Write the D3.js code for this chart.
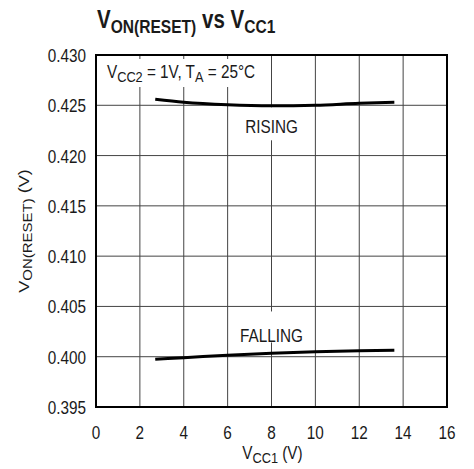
<!DOCTYPE html>
<html>
<head>
<meta charset="utf-8">
<script src="https://cdn.jsdelivr.net/npm/d3@7"></script>
<style>
  body { margin: 0; background: #fff; }
  svg text { font-family: "Liberation Sans", Arial, sans-serif; fill: #1a1a1a; }
</style>
</head>
<body>
<div id="chart"></div>
<script>
// data
var xTicks = [0, 2, 4, 6, 8, 10, 12, 14, 16];
var yTicks = [0.395, 0.400, 0.405, 0.410, 0.415, 0.420, 0.425, 0.430];
var vcc1 = [2.7, 4, 6, 8, 10, 12, 13.6];
var rising = [0.4256, 0.4253, 0.42505, 0.42495, 0.4250, 0.4252, 0.4253];
var falling = [0.39975, 0.3999, 0.40015, 0.40035, 0.4005, 0.4006, 0.40065];

var width = 474, height = 469;
var margin = {left: 96, right: 27, top: 55, bottom: 62};
var squeeze = 0.85; // condensed look

var svg = d3.select("#chart").append("svg")
  .attr("width", width)
  .attr("height", height);

var x = d3.scaleLinear().domain([0, 16]).range([margin.left, width - margin.right]);
var y = d3.scaleLinear().domain([0.395, 0.430]).range([height - margin.bottom, margin.top]);

// text squeezed horizontally around its anchor point
function label(px, py, anchor, size, sx, rot) {
  var t = "translate(" + px + "," + py + ")" + (rot ? " rotate(" + rot + ")" : "") + " scale(" + (sx || squeeze) + ",1)";
  return svg.append("g").attr("transform", t)
    .append("text")
    .attr("text-anchor", anchor)
    .attr("font-size", size);
}

// grid
svg.append("g").selectAll("line")
  .data(xTicks.slice(1, -1))
  .enter().append("line")
  .attr("x1", d => x(d)).attr("x2", d => x(d))
  .attr("y1", y(0.395)).attr("y2", y(0.430))
  .attr("stroke", "#444").attr("stroke-width", 1);

svg.append("g").selectAll("line")
  .data(yTicks.slice(1, -1))
  .enter().append("line")
  .attr("x1", x(0)).attr("x2", x(16))
  .attr("y1", d => y(d)).attr("y2", d => y(d))
  .attr("stroke", "#444").attr("stroke-width", 1);

// white boxes behind labels
svg.append("rect").attr("x", x(0) + 2).attr("y", 59).attr("width", 170).attr("height", 28).attr("fill", "#fff");
svg.append("rect").attr("x", x(8) - 30).attr("y", y(0.4249) + 1).attr("width", 60).attr("height", 33).attr("fill", "#fff");
svg.append("rect").attr("x", x(8) - 34).attr("y", y(0.4045)).attr("width", 68).attr("height", 31).attr("fill", "#fff");

// frame
svg.append("rect")
  .attr("x", x(0)).attr("y", y(0.430))
  .attr("width", x(16) - x(0)).attr("height", y(0.395) - y(0.430))
  .attr("fill", "none").attr("stroke", "#000").attr("stroke-width", 2);

// curves
var line = d3.line()
  .x(function(d, i) { return x(vcc1[i]); })
  .y(function(d) { return y(d); })
  .curve(d3.curveMonotoneX);

[rising, falling].forEach(function(s) {
  svg.append("path")
    .attr("d", line(s))
    .attr("fill", "none")
    .attr("stroke", "#000")
    .attr("stroke-width", 3);
});

// tick labels
xTicks.forEach(function(d) {
  label(x(d), 439, "middle", 18).text(d);
});
yTicks.forEach(function(d) {
  label(86, y(d) + 7, "end", 18).text(d3.format(".3f")(d));
});

// axis titles
var xt = label((x(0) + x(16)) / 2 + 1, 459, "middle", 18);
xt.append("tspan").text("V");
xt.append("tspan").attr("font-size", 15).attr("dy", 4).text("CC1");
xt.append("tspan").attr("dy", -4).text(" (V)");

var yt = label(29, (y(0.395) + y(0.430)) / 2, "middle", 18, 1, -90);
yt.attr("transform", "scale(1," + squeeze + ")");
yt.append("tspan").text("V");
yt.append("tspan").attr("font-size", 15).attr("dy", 4).text("ON(RESET)");
yt.append("tspan").attr("dy", -4).text(" (V)");

// title
var tt = label(97, 28, "start", 25, 0.82);
tt.attr("font-weight", "bold");
tt.append("tspan").text("V");
tt.append("tspan").attr("font-size", 19).attr("dy", 5).text("ON(RESET)");
tt.append("tspan").attr("dy", -5).text(" vs V");
tt.append("tspan").attr("font-size", 19).attr("dy", 5).text("CC1");

// annotations
var an = label(107, 78, "start", 18);
an.append("tspan").text("V");
an.append("tspan").attr("font-size", 15).attr("dy", 4).text("CC2");
an.append("tspan").attr("dy", -4).text(" = 1V, T");
an.append("tspan").attr("font-size", 15).attr("dy", 4).text("A");
an.append("tspan").attr("dy", -4).text(" = 25°C");

label(x(8), 133, "middle", 18).text("RISING");
label(x(8), 342, "middle", 18).text("FALLING");
</script>
</body>
</html>
